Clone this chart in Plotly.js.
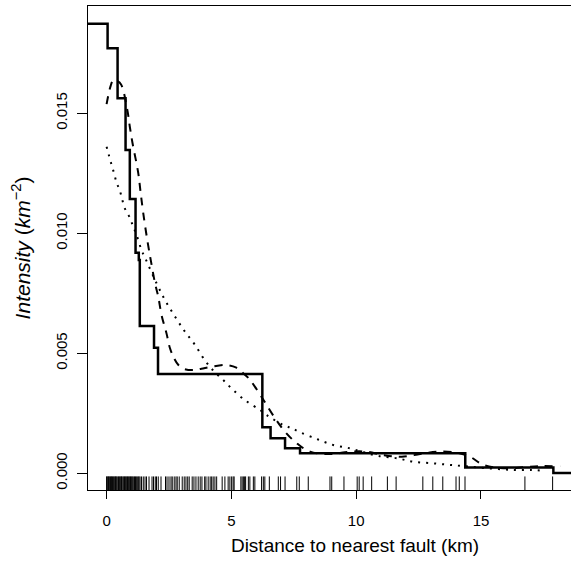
<!DOCTYPE html>
<html>
<head>
<meta charset="utf-8">
<script src="https://cdn.plot.ly/plotly-3.0.1.min.js"></script>
<style>html,body{margin:0;padding:0;background:#fff;overflow:hidden;width:571px;height:566px;}#chart{width:640px;height:566px;}</style>
</head>
<body>
<div id="chart"></div>
<script>
// Step function (solid): break points and levels
const stepBreaks = [-1, 0.04, 0.44, 0.76, 0.93, 1.16, 1.29, 1.33, 1.90, 2.06, 6.24, 6.57, 7.15, 7.75, 14.37, 17.9, 21];
const stepLevels = [0.01873, 0.01771, 0.01563, 0.01347, 0.01143, 0.00919, 0.00889, 0.00614, 0.00523, 0.00414, 0.00192, 0.00146, 0.00104, 0.00083, 0.00024, 0.00001];

// Dashed smooth curve
const dashX = [0, 0.15, 0.27, 0.42, 0.58, 0.83, 0.93, 1.04, 1.27, 1.36, 1.47, 1.63, 1.78, 1.94, 2.07, 2.2, 2.4, 2.54, 2.7, 2.87, 3.1, 3.47, 3.8, 4.2, 4.8, 5.2, 5.47, 5.7, 5.94, 6.21, 6.41, 6.75, 7.15, 7.62, 8.15, 8.95, 9.75, 10.42, 11.09, 11.82, 12.56, 13.23, 14.03, 14.56, 15.1, 15.9, 16.7, 17.37, 18.17];
const dashY = [0.01538, 0.01610, 0.01639, 0.01635, 0.01620, 0.01514, 0.01444, 0.01375, 0.01250, 0.01173, 0.01083, 0.00972, 0.00882, 0.00792, 0.00736, 0.00660, 0.00583, 0.00521, 0.00480, 0.00452, 0.00435, 0.00430, 0.00436, 0.00444, 0.00451, 0.00440, 0.00417, 0.00395, 0.00361, 0.00318, 0.00285, 0.00229, 0.00173, 0.00125, 0.00090, 0.00080, 0.00090, 0.00090, 0.00076, 0.00069, 0.00080, 0.00090, 0.00086, 0.00069, 0.00035, 0.00021, 0.00025, 0.00030, 0.00028];

// Dotted parametric curve
const dotX = [0, 0.1, 0.2, 0.3, 0.4, 0.53, 0.73, 0.91, 1.04, 1.2, 1.4, 1.58, 2.0, 2.34, 2.74, 3.14, 3.54, 3.94, 4.3, 4.67, 5.0, 5.54, 6.14, 6.41, 7.08, 7.41, 7.75, 8.42, 9.08, 9.75, 10.3, 10.89, 11.62, 12.29, 13.03, 13.76, 14.5, 15.4, 16.3, 17.03, 17.45];
const dotY = [0.01361, 0.01322, 0.01285, 0.01250, 0.01211, 0.01178, 0.01104, 0.01069, 0.01035, 0.00993, 0.00930, 0.00889, 0.00792, 0.00722, 0.00653, 0.00590, 0.00535, 0.00470, 0.00425, 0.00389, 0.00354, 0.00305, 0.00264, 0.00243, 0.00201, 0.00188, 0.00171, 0.00143, 0.00118, 0.00104, 0.00088, 0.00072, 0.00063, 0.00048, 0.00042, 0.00035, 0.00028, 0.00020, 0.00014, 0.00014, 0.00011];

// Rug: distances of observed points
const rugX = [0.00, 0.02, 0.05, 0.08, 0.10, 0.13, 0.16, 0.19, 0.21, 0.24, 0.27, 0.30, 0.33, 0.36, 0.38, 0.41, 0.45, 0.48, 0.51, 0.54, 0.57, 0.60, 0.62, 0.66, 0.69, 0.72, 0.75, 0.78, 0.81, 0.84, 0.87, 0.90, 0.93, 0.96, 0.99, 1.02, 1.05, 1.09, 1.12, 1.16, 1.19, 1.23, 1.27, 1.30, 1.34,
  1.40, 1.47, 1.54, 1.60, 1.70, 1.82, 1.88, 1.95, 2.00, 2.07, 2.18, 2.36, 2.42, 2.50, 2.58, 2.63, 2.71, 2.78, 2.83, 2.91, 3.03, 3.11, 3.18, 3.25, 3.31, 3.43, 3.50, 3.58, 3.67, 3.75, 3.82, 3.93, 3.98, 4.07, 4.15, 4.21, 4.27,
  4.34, 4.41, 4.63, 4.74, 4.87, 4.94, 5.01, 5.07, 5.11, 5.38, 5.43, 5.48, 5.53, 5.57, 5.68, 5.74, 5.88, 5.94, 6.21, 6.28, 6.34, 6.52, 6.88, 6.97, 7.15, 7.62, 7.72, 8.08,
  8.95, 9.02, 9.51, 10.04, 10.12, 10.28, 10.62, 11.25, 11.60, 12.67, 13.07, 13.47, 14.00, 14.13, 14.36, 16.76, 17.87];

const yTickVals = [0, 0.005, 0.010, 0.015];
const yTickText = ["0.000", "0.005", "0.010", "0.015"];
const xTickVals = [0, 5, 10, 15];

// build step trace
const sx = [], sy = [];
for (let i = 0; i < stepLevels.length; i++) {
  sx.push(stepBreaks[i], stepBreaks[i + 1]);
  sy.push(stepLevels[i], stepLevels[i]);
}
// build rug trace
const rx = [], ry = [];
rugX.forEach(v => { rx.push(v, v, null); ry.push(0, 0.028, null); });

const font = "Liberation Sans, Arial, Helvetica, sans-serif";
const traces = [
  {x: rx, y: ry, yaxis: 'y2', mode: 'lines', line: {color: '#000', width: 1}, hoverinfo: 'skip'},
  {x: dotX, y: dotY, mode: 'lines', line: {color: '#000', width: 2, dash: '2px,6px', shape: 'spline'}},
  {x: dashX, y: dashY, mode: 'lines', line: {color: '#000', width: 2, dash: '8px,7px', shape: 'spline'}},
  {x: sx, y: sy, mode: 'lines', line: {color: '#000', width: 2.5}}
];
// The reference figure is cropped on the right: the plot region runs past the 571px window.
const layout = {
  width: 640, height: 566,
  margin: {l: 88, r: 18, t: 6, b: 76},
  paper_bgcolor: '#fff', plot_bgcolor: '#fff',
  showlegend: false,
  font: {family: font, color: '#000', size: 15},
  xaxis: {
    range: [-0.745, 20.65], tickvals: xTickVals, ticks: 'outside', ticklen: 8, tickwidth: 1, tickcolor: '#000',
    showline: true, mirror: true, linecolor: '#000', linewidth: 1, showgrid: false, zeroline: false,
    tickfont: {size: 15, family: font}, ticklabelstandoff: 9,
    title: {text: 'Distance to nearest fault (km)', font: {size: 19, family: font}, standoff: 10}
  },
  yaxis: {
    range: [-0.000696, 0.01947], tickvals: yTickVals, ticktext: yTickText, tickangle: -90,
    ticks: 'outside', ticklen: 10, tickwidth: 1, tickcolor: '#000',
    showline: true, mirror: true, linecolor: '#000', linewidth: 1, showgrid: false, zeroline: false,
    tickfont: {size: 15, family: font}, ticklabelstandoff: 4,
    title: {text: '<i>Intensity</i> (<i>km</i><sup>−2</sup>)', font: {size: 21, family: font}, standoff: 16}
  },
  yaxis2: {overlaying: 'y', range: [0, 1], visible: false, fixedrange: true}
};
Plotly.newPlot('chart', traces, layout, {displayModeBar: false, staticPlot: true});
</script>
</body>
</html>
